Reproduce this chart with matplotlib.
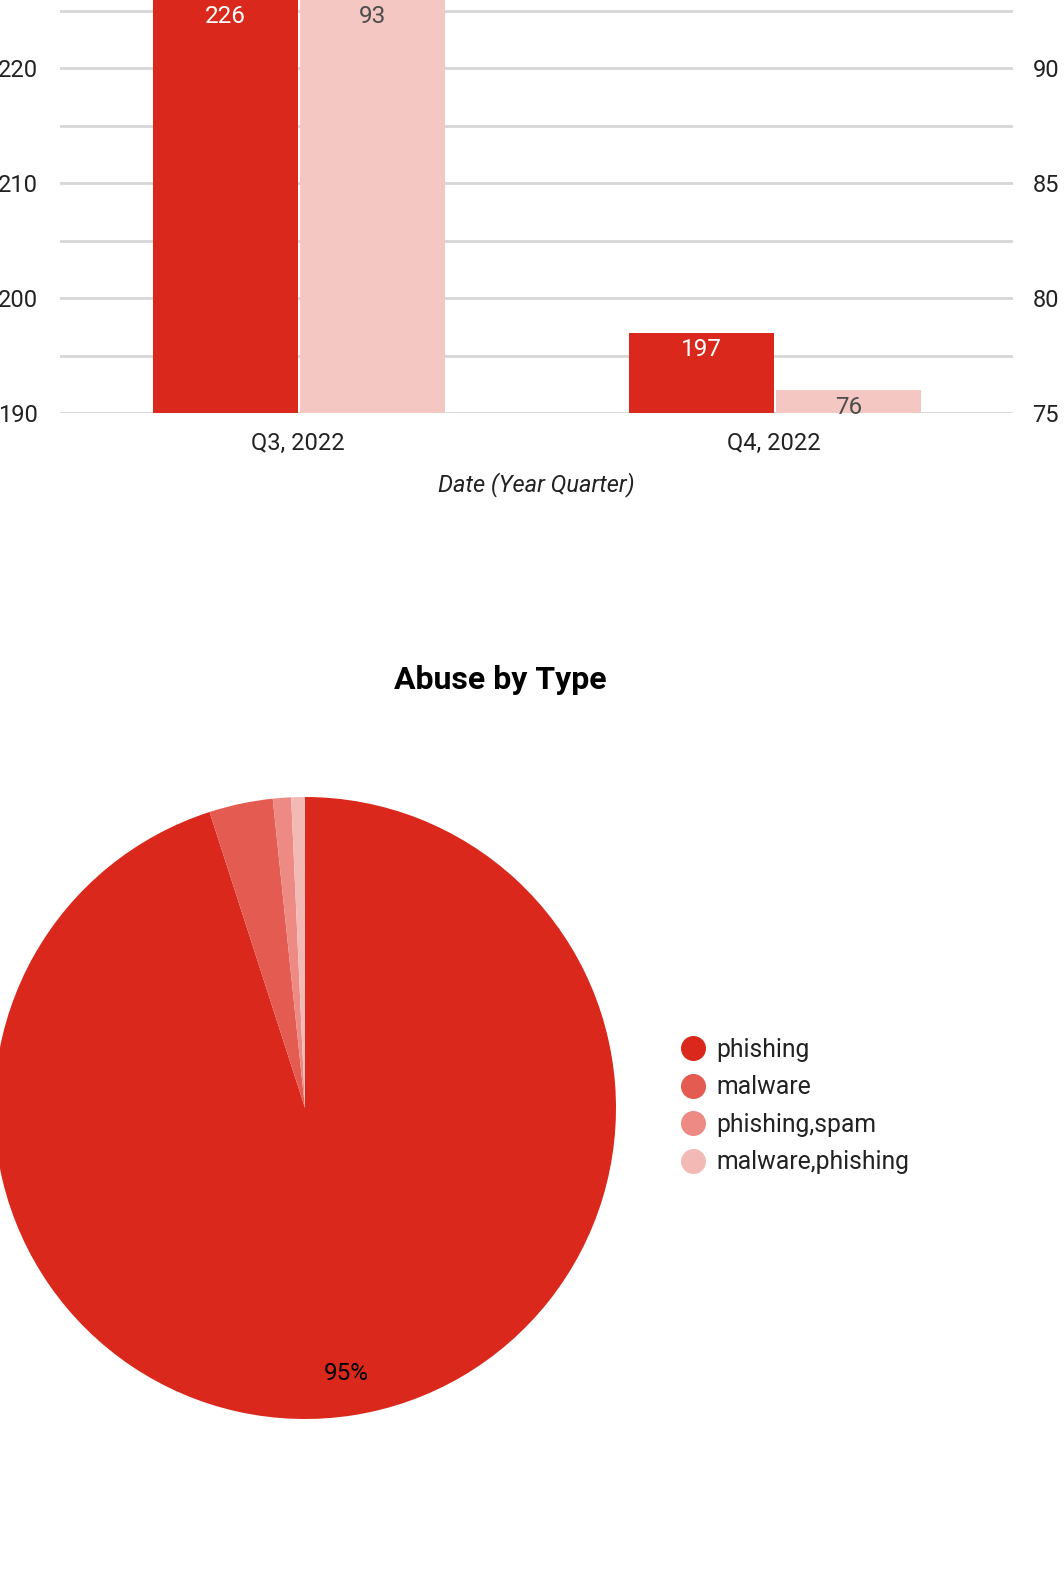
import numpy as np
import matplotlib
matplotlib.use("Agg")
from matplotlib import pyplot as plt
from matplotlib.lines import Line2D

plt.rcParams['font.family'] = ['Roboto', 'DejaVu Sans']

# bar chart data
quarters = ["Q3, 2022", "Q4, 2022"]
abuse_count = [226, 197]      # left axis
second_count = [93, 76]       # right axis

# pie data
abuse_types = ["phishing", "malware", "phishing,spam", "malware,phishing"]
type_counts = [402, 14, 4, 3]

red = "#da291c"
pink = "#f4c7c3"
pie_colors = ["#da291c", "#e35b51", "#ec8a83", "#f3bab5"]
grid_col = "#d6d6d6"
text_col = "#222222"

W, H = 1064, 1575
fig = plt.figure(figsize=(W / 100, H / 100), dpi=100)

# ---- bar chart (top part, cropped at figure top) ----
ax_l, ax_r = 60, 1013
ax_bot = 413
ax1 = fig.add_axes([ax_l / W, 1 - ax_bot / H, (ax_r - ax_l) / W, ax_bot / H])
ax2 = ax1.twinx()

x = np.arange(len(quarters))
w = 0.305
b1 = ax1.bar(x - 0.153, abuse_count, w, color=red, zorder=2)
b2 = ax2.bar(x + 0.157, second_count, w, color=pink, zorder=2)

ax1.set_xticks(x)
ax1.set_xticklabels(quarters)
ax1.set_xlim(-0.5, 1.502)
ax1.set_ylim(190, 190 + ax_bot / 11.5)
ax2.set_ylim(75, 75 + ax_bot / 23)

left_ticks = np.arange(190, 226, 5)
ax1.set_yticks(left_ticks)
ax1.set_yticklabels([str(t) if t % 10 == 0 else "" for t in left_ticks])
ax2.set_yticks([75, 80, 85, 90])
ax1.set_ylim(190, 190 + ax_bot / 11.5)
ax2.set_ylim(75, 75 + ax_bot / 23)
ax1.yaxis.grid(True, color=grid_col, linewidth=2, zorder=0)
ax1.set_axisbelow(True)
for a in (ax1, ax2):
    for s in a.spines.values():
        s.set_visible(False)
    a.tick_params(length=0, labelsize=17, colors=text_col)
ax1.tick_params(axis='y', pad=16)
ax2.tick_params(axis='y', pad=14)
ax1.tick_params(axis='x', pad=14)
ax1.set_xlabel("Date (Year Quarter)", fontsize=17, style='italic',
               color=text_col, labelpad=12)

for rect, v in zip(b1, abuse_count):
    ax1.annotate(str(v), (rect.get_x() + rect.get_width() / 2, v),
                 xytext=(0, -12.5), textcoords='offset points',
                 ha='center', va='center', color='white', fontsize=17.5,
                 annotation_clip=False)
for rect, v in zip(b2, second_count):
    ax2.annotate(str(v), (rect.get_x() + rect.get_width() / 2, v),
                 xytext=(0, -12.5), textcoords='offset points',
                 ha='center', va='center', color='#4d4d4d', fontsize=17.5,
                 annotation_clip=False)

# ---- pie chart ----
fig.text(500 / W, 1 - 680 / H, "Abuse by Type", ha='center', va='center',
         fontsize=23, fontweight='bold', color='black')

cx, cy, r = 305, 1108, 311
pax = fig.add_axes([(cx - r) / W, 1 - (cy + r) / H, 2 * r / W, 2 * r / H])
wedges, _, autotexts = pax.pie(
    type_counts, colors=pie_colors, startangle=90, counterclock=False,
    autopct=lambda p: f"{p:.0f}%" if p > 5 else "", pctdistance=0.865,
    textprops=dict(fontsize=17.5, color='black'))
pax.set_xlim(-1, 1)
pax.set_ylim(-1, 1)
pax.set_aspect('equal')

handles = [Line2D([], [], marker='o', linestyle='', markersize=17,
                  markerfacecolor=c, markeredgecolor=c) for c in pie_colors]
fig.legend(handles, abuse_types, loc='center left',
           bbox_to_anchor=(678 / W, 1 - 1106 / H), frameon=False,
           fontsize=17.8, handletextpad=0.34, labelspacing=0.55,
           handlelength=1.2, borderpad=0, borderaxespad=0,
           labelcolor=text_col)

fig.savefig("out.png", dpi=100)
